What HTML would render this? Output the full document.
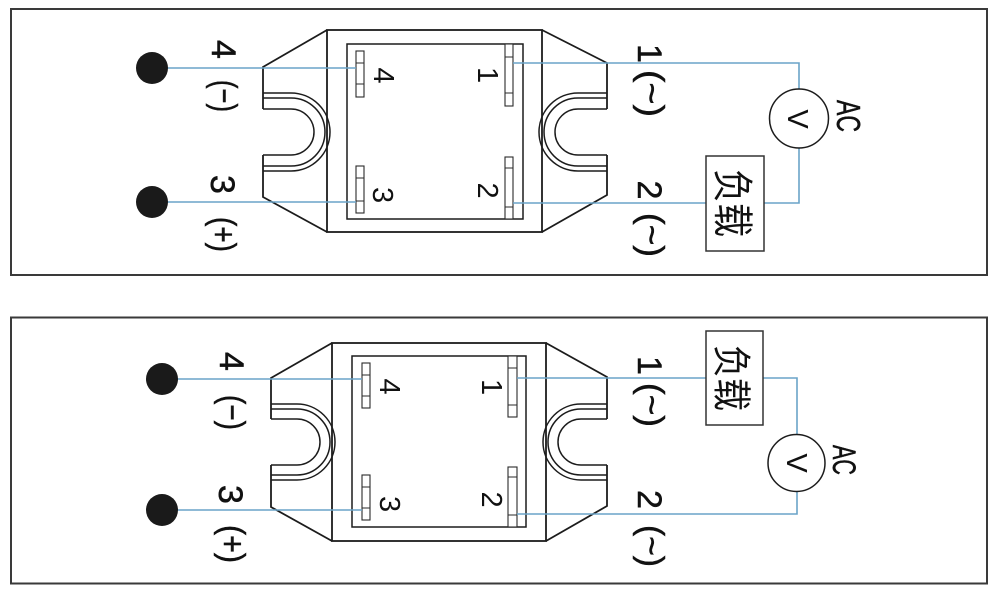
<!DOCTYPE html>
<html><head><meta charset="utf-8"><style>
html,body{margin:0;padding:0;background:#fff;}
svg{display:block;}
text{font-family:"Liberation Sans","Noto Sans CJK SC",sans-serif;fill:#111;}
.cjk{font-family:"Liberation Sans","Noto Sans CJK SC",sans-serif;}
</style></head><body>
<svg width="1000" height="593" viewBox="0 0 1000 593" xmlns="http://www.w3.org/2000/svg">
<rect x="0" y="0" width="1000" height="593" fill="#fff"/>
<!-- panel borders -->
<rect x="11" y="9" width="976" height="266" fill="none" stroke="#3a3a3a" stroke-width="2"/>
<rect x="11" y="317.5" width="976" height="266" fill="none" stroke="#3a3a3a" stroke-width="2"/>

<!-- ================= TOP PANEL ================= -->
<g fill="none" stroke="#1c1c1c" stroke-width="1.8">
  <rect x="327" y="30" width="215" height="202"/>
  <rect x="347" y="44" width="176" height="175" stroke-width="1.5"/>
  <path d="M327,30 L263,67 L263,109 M263,155 L263,197 L327,232"/>
  <path d="M542,30 L607,63 L607,109 M607,155 L607,195 L542,232"/>
</g>
<g fill="none" stroke="#1c1c1c" stroke-width="1.5">
  <path d="M263,93 L291,93 A39,39 0 0 1 291,171 L263,171"/>
  <path d="M263,98 L291,98 A34,34 0 0 1 291,166 L263,166"/>
  <path d="M263,109 L291,109 A23,23 0 0 1 291,155 L263,155"/>
  <path d="M607,93 L578,93 A39,39 0 0 0 578,171 L607,171"/>
  <path d="M607,98 L578,98 A34,34 0 0 0 578,166 L607,166"/>
  <path d="M607,109 L578,109 A23,23 0 0 0 578,155 L607,155"/>
</g>
<g fill="#fff" stroke="#2a2a2a" stroke-width="1.1">
  <rect x="356" y="51" width="8" height="46"/>
  <path d="M356,63 H364 M356,84 H364"/>
  <rect x="356" y="166" width="8" height="47"/>
  <path d="M356,178 H364 M356,201 H364"/>
  <rect x="505" y="44" width="8" height="62"/>
  <path d="M505,57 H513 M505,93 H513"/>
  <rect x="505" y="157" width="8" height="62"/>
  <path d="M505,168 H513 M505,207 H513"/>
</g>
<g fill="none" stroke="#6aa4c8" stroke-width="1.6">
  <path d="M152,68 H356"/>
  <path d="M152,202 H356"/>
  <path d="M513,63 H799 V89"/>
  <path d="M799,148 V203 H764"/>
  <path d="M706,203 H513"/>
</g>
<circle cx="152" cy="68" r="16" fill="#1a1a1a"/>
<circle cx="152" cy="202" r="16" fill="#1a1a1a"/>
<circle cx="799" cy="118.5" r="29.5" fill="#fff" stroke="#1c1c1c" stroke-width="1.5"/>
<rect x="706" y="156" width="58" height="95" fill="#fff" stroke="#333" stroke-width="1.5"/>

<g font-size="34" text-anchor="middle" stroke="#111" stroke-width="0.5">
  <text transform="translate(212,49.5) rotate(90)">4</text>
  <text transform="translate(213,96) rotate(90)" textLength="32" lengthAdjust="spacingAndGlyphs">(−)</text>
  <text transform="translate(211,184.5) rotate(90)">3</text>
  <text transform="translate(212,234.5) rotate(90)" textLength="35" lengthAdjust="spacingAndGlyphs">(+)</text>
  <text transform="translate(638,53.5) rotate(90)">1</text>
  <text transform="translate(640,93.5) rotate(90)" textLength="47" lengthAdjust="spacingAndGlyphs">(~)</text>
  <text transform="translate(638,190) rotate(90)">2</text>
  <text transform="translate(640,235) rotate(90)" textLength="44" lengthAdjust="spacingAndGlyphs">(~)</text>
</g>
<g font-size="29" text-anchor="middle">
  <text transform="translate(374,75.5) rotate(90)">4</text>
  <text transform="translate(478,75) rotate(90)">1</text>
  <text transform="translate(373,195) rotate(90)">3</text>
  <text transform="translate(478,190.5) rotate(90)">2</text>
</g>
<text transform="translate(837,116) rotate(90)" font-size="33" text-anchor="middle" textLength="32" lengthAdjust="spacingAndGlyphs" stroke="#111" stroke-width="0.5">AC</text>
<text transform="translate(788,119) rotate(90)" font-size="29" text-anchor="middle">V</text>
<text class="cjk" transform="translate(718,203) rotate(90)" font-size="41" text-anchor="middle" textLength="68" lengthAdjust="spacingAndGlyphs">负载</text>

<!-- ================= BOTTOM PANEL ================= -->
<g fill="none" stroke="#1c1c1c" stroke-width="1.8">
  <rect x="332" y="343" width="214" height="198"/>
  <rect x="352" y="356" width="174" height="171" stroke-width="1.5"/>
  <path d="M332,343 L271,378 L271,419 M271,465 L271,507 L332,541"/>
  <path d="M546,343 L607,377 L607,419 M607,465 L607,506 L546,541"/>
</g>
<g fill="none" stroke="#1c1c1c" stroke-width="1.5">
  <path d="M271,404 L297,404 A38,38 0 0 1 297,480 L271,480"/>
  <path d="M271,409 L297,409 A33,33 0 0 1 297,475 L271,475"/>
  <path d="M271,419 L297,419 A23,23 0 0 1 297,465 L271,465"/>
  <path d="M607,404 L581,404 A38,38 0 0 0 581,480 L607,480"/>
  <path d="M607,409 L581,409 A33,33 0 0 0 581,475 L607,475"/>
  <path d="M607,419 L581,419 A23,23 0 0 0 581,465 L607,465"/>
</g>
<g fill="#fff" stroke="#2a2a2a" stroke-width="1.1">
  <rect x="362" y="363" width="8" height="45"/>
  <path d="M362,375 H370 M362,396 H370"/>
  <rect x="362" y="475" width="8" height="45"/>
  <path d="M362,487 H370 M362,508 H370"/>
  <rect x="508" y="356" width="9" height="61"/>
  <path d="M508,368 H517 M508,405 H517"/>
  <rect x="508" y="467" width="9" height="60"/>
  <path d="M508,477 H517 M508,515 H517"/>
</g>
<g fill="none" stroke="#6aa4c8" stroke-width="1.6">
  <path d="M162,379 H362"/>
  <path d="M162,510 H362"/>
  <path d="M517,378 H706"/>
  <path d="M763,378 H797 V434.5"/>
  <path d="M797,491.5 V514 H517"/>
</g>
<circle cx="162" cy="379" r="16" fill="#1a1a1a"/>
<circle cx="162" cy="510" r="16" fill="#1a1a1a"/>
<circle cx="796.5" cy="463" r="28.5" fill="#fff" stroke="#1c1c1c" stroke-width="1.5"/>
<rect x="706" y="331" width="57" height="94" fill="#fff" stroke="#333" stroke-width="1.5"/>

<g font-size="34" text-anchor="middle" stroke="#111" stroke-width="0.5">
  <text transform="translate(220,361.5) rotate(90)">4</text>
  <text transform="translate(221,412.5) rotate(90)" textLength="35" lengthAdjust="spacingAndGlyphs">(−)</text>
  <text transform="translate(219,494.5) rotate(90)">3</text>
  <text transform="translate(221,544) rotate(90)" textLength="38" lengthAdjust="spacingAndGlyphs">(+)</text>
  <text transform="translate(638,365.5) rotate(90)">1</text>
  <text transform="translate(640,405) rotate(90)" textLength="44" lengthAdjust="spacingAndGlyphs">(~)</text>
  <text transform="translate(638,499.5) rotate(90)">2</text>
  <text transform="translate(640,546) rotate(90)" textLength="42" lengthAdjust="spacingAndGlyphs">(~)</text>
</g>
<g font-size="29" text-anchor="middle">
  <text transform="translate(380,386.5) rotate(90)">4</text>
  <text transform="translate(482,387) rotate(90)">1</text>
  <text transform="translate(380,504) rotate(90)">3</text>
  <text transform="translate(482,499.5) rotate(90)">2</text>
</g>
<text transform="translate(833,460) rotate(90)" font-size="32" text-anchor="middle" textLength="30" lengthAdjust="spacingAndGlyphs" stroke="#111" stroke-width="0.5">AC</text>
<text transform="translate(787,463) rotate(90)" font-size="29" text-anchor="middle">V</text>
<text class="cjk" transform="translate(717.5,378) rotate(90)" font-size="39" text-anchor="middle" textLength="66" lengthAdjust="spacingAndGlyphs">负载</text>
</svg>
</body></html>
